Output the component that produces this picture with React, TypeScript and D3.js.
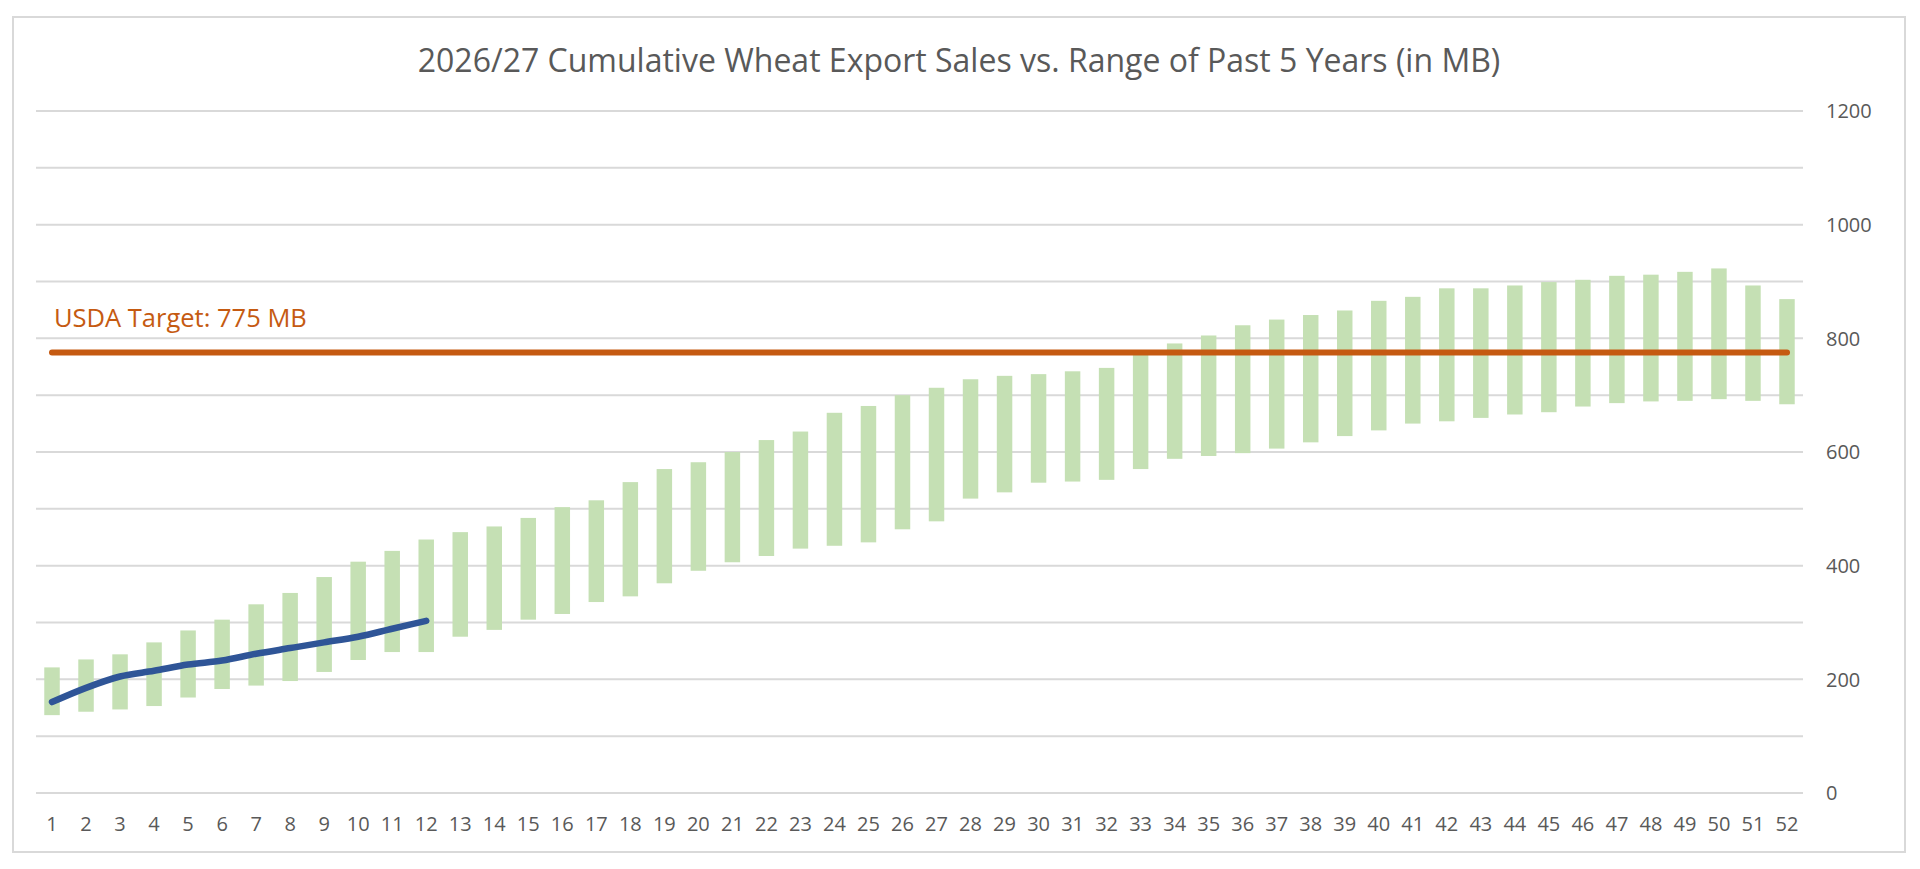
import React, { useRef, useEffect } from 'react';
import * as d3 from 'd3';

// week numbers on the x axis
const weeks = [
  '1', '2', '3', '4', '5', '6', '7', '8', '9', '10', '11', '12', '13',
  '14', '15', '16', '17', '18', '19', '20', '21', '22', '23', '24', '25', '26',
  '27', '28', '29', '30', '31', '32', '33', '34', '35', '36', '37', '38', '39',
  '40', '41', '42', '43', '44', '45', '46', '47', '48', '49', '50', '51', '52',
];

// past 5 years range (min / max cumulative sales, MB)
const rangeLow = [
  137, 143, 147, 153, 168, 183, 189, 197, 213, 234, 248, 248, 275,
  287, 305, 315, 336, 346, 369, 391, 406, 417, 430, 435, 441, 464,
  478, 518, 529, 546, 548, 551, 570, 588, 593, 598, 606, 617, 628,
  638, 650, 654, 660, 666, 670, 680, 686, 689, 690, 693, 690, 684,
];
const rangeHigh = [
  221, 235, 244, 265, 286, 305, 332, 352, 380, 407, 426, 446, 459,
  469, 484, 503, 515, 547, 570, 582, 600, 621, 636, 669, 681, 700,
  713, 728, 734, 737, 742, 748, 773, 791, 805, 823, 833, 841, 849,
  866, 873, 888, 888, 893, 899, 903, 910, 912, 917, 923, 893, 869,
];

// 2026/27 cumulative sales so far
const currentSales = [160, 185, 205, 215, 226, 233, 245, 255, 265, 275, 289, 303];

const usdaTarget = 775;
const yTicks = [0, 200, 400, 600, 800, 1000, 1200];
const gridTicks = [0, 100, 200, 300, 400, 500, 600, 700, 800, 900, 1000, 1100, 1200];

const WIDTH = 1920;
const HEIGHT = 869;
const FONT = '"Open Sans", "Noto Sans", sans-serif';

const WheatChart: React.FC = () => {
  const svgRef = useRef<SVGSVGElement>(null);

  useEffect(() => {
    if (!svgRef.current) return;
    const svg = d3.select(svgRef.current);
    svg.selectAll('*').remove();

    const plot = { left: 35, right: 1804, top: 111, bottom: 793 };

    const x = d3.scaleBand()
      .domain(weeks)
      .range([plot.left, plot.right])
      .paddingInner(0.545)
      .paddingOuter(0.2725);
    const cx = (w: string) => x(w)! + x.bandwidth() / 2;

    const y = d3.scaleLinear()
      .domain([0, 1200])
      .range([plot.bottom, plot.top]);

    // chart border
    svg.append('rect')
      .attr('x', 13).attr('y', 17)
      .attr('width', 1892).attr('height', 835)
      .attr('fill', '#fff')
      .attr('stroke', '#d9d9d9')
      .attr('stroke-width', 2);

    // title
    svg.append('text')
      .attr('x', 959).attr('y', 72)
      .attr('text-anchor', 'middle')
      .attr('font-family', FONT)
      .attr('font-size', 32)
      .attr('fill', '#595959')
      .text('2026/27 Cumulative Wheat Export Sales vs. Range of Past 5 Years (in MB)');

    // gridlines
    svg.append('g')
      .selectAll('line')
      .data(gridTicks)
      .join('line')
      .attr('x1', 36).attr('x2', 1803)
      .attr('y1', d => y(d)).attr('y2', d => y(d))
      .attr('stroke', '#d9d9d9')
      .attr('stroke-width', 2);

    // right axis labels
    svg.append('g')
      .selectAll('text')
      .data(yTicks)
      .join('text')
      .attr('x', 1826)
      .attr('y', d => y(d))
      .attr('dy', '0.36em')
      .attr('font-family', FONT)
      .attr('font-size', 20)
      .attr('fill', '#595959')
      .text(d => d);

    // week labels
    svg.append('g')
      .selectAll('text')
      .data(weeks)
      .join('text')
      .attr('x', d => cx(d))
      .attr('y', 831)
      .attr('text-anchor', 'middle')
      .attr('font-family', FONT)
      .attr('font-size', 20)
      .attr('fill', '#595959')
      .text(d => d);

    // range bars
    const ranges = weeks.map((w, i) => ({ w, lo: rangeLow[i], hi: rangeHigh[i] }));
    svg.append('g')
      .selectAll('rect')
      .data(ranges)
      .join('rect')
      .attr('x', d => x(d.w)!)
      .attr('y', d => y(d.hi))
      .attr('width', x.bandwidth())
      .attr('height', d => y(d.lo) - y(d.hi))
      .attr('fill', '#c5e0b4');

    // USDA target line
    svg.append('line')
      .attr('x1', cx(weeks[0]))
      .attr('x2', cx(weeks[weeks.length - 1]))
      .attr('y1', y(usdaTarget)).attr('y2', y(usdaTarget))
      .attr('stroke', '#c55a11')
      .attr('stroke-width', 6)
      .attr('stroke-linecap', 'round');

    svg.append('text')
      .attr('x', 54).attr('y', 327)
      .attr('font-family', FONT)
      .attr('font-size', 25.5)
      .attr('fill', '#c55a11')
      .text(`USDA Target: ${usdaTarget} MB`);

    // current year sales
    const line = d3.line<number>()
      .x((_, i) => cx(weeks[i]))
      .y(d => y(d))
      .curve(d3.curveMonotoneX);

    svg.append('path')
      .datum(currentSales)
      .attr('d', line)
      .attr('fill', 'none')
      .attr('stroke', '#2f5597')
      .attr('stroke-width', 6.5)
      .attr('stroke-linecap', 'round')
      .attr('stroke-linejoin', 'round');
  }, []);

  return (
    <div style={{ position: 'absolute', left: 0, top: 0, background: '#fff' }}>
      <svg ref={svgRef} width={WIDTH} height={HEIGHT} style={{ display: 'block' }}></svg>
    </div>
  );
};

export default function App() {
  return <WheatChart />;
}
